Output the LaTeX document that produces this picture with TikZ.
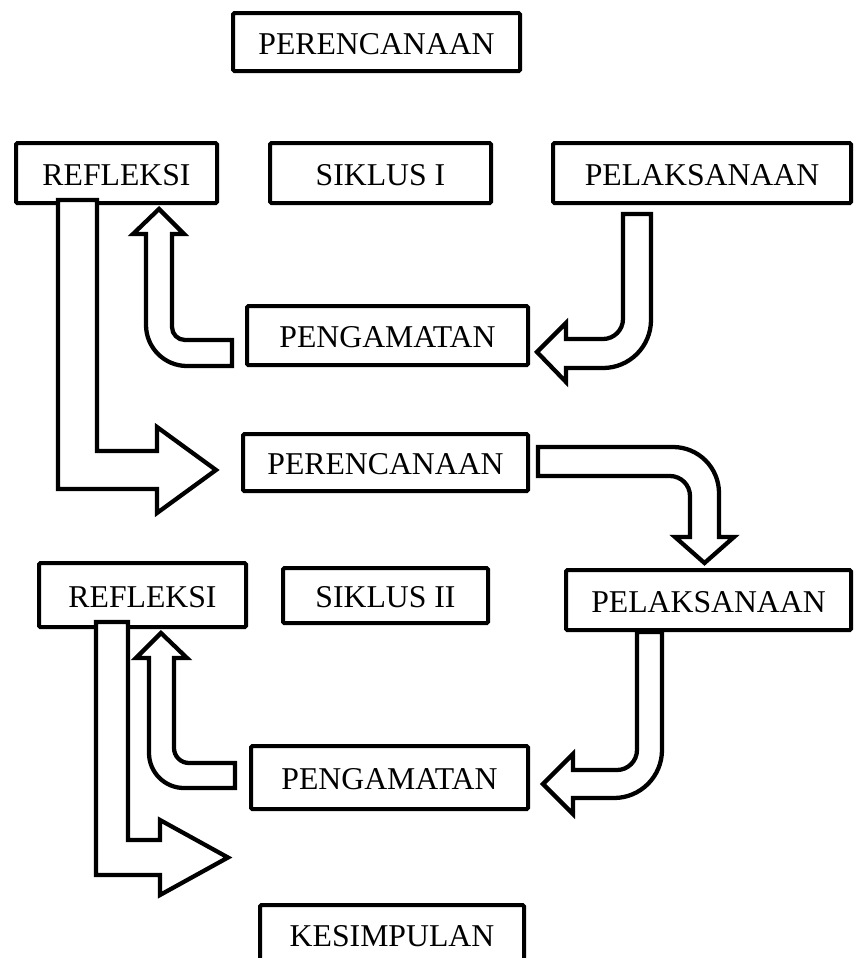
\documentclass[tikz,border=0pt]{standalone}
\usepackage{fontspec}
\setmainfont{Liberation Serif}
\begin{document}
\begin{tikzpicture}[x=0.75pt,y=-0.75pt,
  box/.style={draw=black, line width=3pt, fill=white, rounded corners=1pt, inner sep=0pt,
              text height=18.6pt, text depth=0pt,
              font=\fontsize{23.8}{28}\selectfont},
  sz/.style 2 args={minimum width=#1*0.75pt, minimum height=#2*0.75pt},
  blockarrow/.style={draw=black, line width=3.2pt, fill=white}]
\fill[white] (0,0) rectangle (854,958);
\useasboundingbox (0,0) rectangle (854,958);

% boxes
\node[box, sz={287}{58}] (per1) at (376.5,42) {PERENCANAAN};
\node[box, sz={201}{60}] (ref1) at (116.5,173) {REFLEKSI};
\node[box, sz={221}{60}] (sik1) at (380.5,173) {SIKLUS I};
\node[box, sz={298}{60}] (pel1) at (702,173) {PELAKSANAAN};
\node[box, sz={281}{59}] (peng1) at (387.5,335.5) {PENGAMATAN};
\node[box, sz={285}{57}] (per2) at (385.5,462.5) {PERENCANAAN};
\node[box, sz={285}{60}] (pel2) at (708.5,600) {PELAKSANAAN};
\node[box, sz={207}{64}] (ref2) at (142.5,595) {REFLEKSI};
\node[box, sz={205}{55}] (sik2) at (385.5,595.5) {SIKLUS II};
\node[box, sz={277}{63}] (peng2) at (389.5,777.5) {PENGAMATAN};
\node[box, sz={264}{58}] (kes) at (392,934) {KESIMPULAN};

% block arrows, cycle I
% pengamatan 1 -> refleksi 1
\draw[blockarrow] (159,209) -- (184,234) -- (172,234) -- (172,327)
  .. controls (172,334.2) and (177.8,340) .. (185,340) -- (232,340) -- (232,366) -- (187,366)
  .. controls (164.4,366) and (146,347.6) .. (146,325) -- (146,234) -- (133,234) -- cycle;
% pelaksanaan 1 -> pengamatan 1
\draw[blockarrow] (623,214) -- (651,214) -- (651,320)
  .. controls (651,346.5) and (629.5,368) .. (603,368) -- (566,368) -- (566,382) -- (537,352)
  -- (566,323) -- (566,339) -- (603,339)
  .. controls (614,339) and (623,330) .. (623,319) -- cycle;
% refleksi 1 -> perencanaan 2
\draw[blockarrow] (58,200) -- (97,200) -- (97,451) -- (157,451) -- (157,427) -- (216,470)
  -- (157,513) -- (157,489) -- (58,489) -- cycle;
% perencanaan 2 -> pelaksanaan 2
\draw[blockarrow] (538,447) -- (673,447) .. controls (698.4,447) and (719,467.6) .. (719,493)
  -- (719,537) -- (734,537) -- (704.5,563) -- (675,537) -- (690,537) -- (690,496)
  .. controls (690,485) and (681,476) .. (670,476) -- (538,476) -- cycle;

% cycle II
% pelaksanaan 2 -> pengamatan 2
\draw[blockarrow] (637,632) -- (662,632) -- (662,750)
  .. controls (662,776.5) and (640.5,798) .. (614,798) -- (573,798) -- (573,814) -- (543,784)
  -- (573,754) -- (573,770) -- (617,770)
  .. controls (628,770) and (637,761) .. (637,750) -- cycle;
% pengamatan 2 -> refleksi 2
\draw[blockarrow] (161,633) -- (187,658) -- (174,658) -- (174,748)
  .. controls (174,756.3) and (180.7,763) .. (189,763) -- (235,763) -- (235,788) -- (184,788)
  .. controls (164.7,788) and (149,772.3) .. (149,753) -- (149,658) -- (136,658) -- cycle;
% refleksi 2 -> next
\draw[blockarrow] (96,622) -- (128,622) -- (128,840) -- (160,840) -- (160,820) -- (228,857.5)
  -- (160,895) -- (160,875) -- (96,875) -- cycle;
\end{tikzpicture}
\end{document}
